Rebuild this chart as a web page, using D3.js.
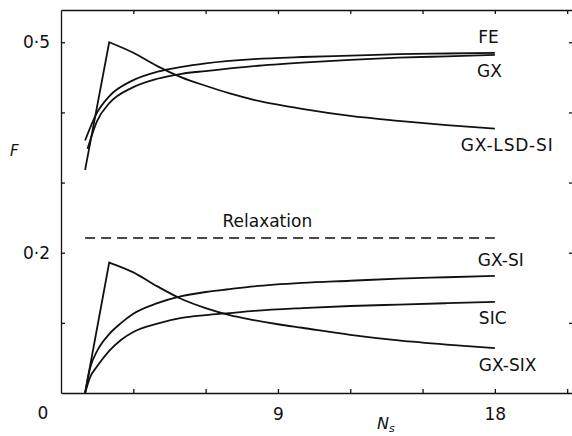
<!DOCTYPE html>
<html>
<head>
    <title>F versus Ns</title>
    <script src="https://d3js.org/d3.v7.min.js"></script>
    <style>
        body { margin: 0; background: #fff; }
        svg text { font-family: "DejaVu Sans", sans-serif; fill: #111; }
    </style>
</head>
<body>
    <div id="chart"></div>

    <script>
        // values: [Ns, F]
        const fe = [[1, 0.360], [1.5, 0.400], [2, 0.423], [3, 0.446], [4, 0.458], [5, 0.465], [6, 0.470],
            [8, 0.476], [10, 0.479], [12, 0.481], [14, 0.483], [16, 0.484], [18, 0.485]];
        const gx = [[1.1, 0.348], [1.5, 0.388], [2, 0.413], [3, 0.436], [4, 0.448], [5, 0.455], [6, 0.459],
            [8, 0.466], [10, 0.471], [12, 0.475], [14, 0.478], [16, 0.480], [18, 0.482]];
        const gxLsdSi = [[1, 0.318], [2, 0.500], [3, 0.485], [4, 0.466], [5, 0.450], [6, 0.438], [7, 0.427],
            [8, 0.418], [9, 0.411], [10, 0.405], [12, 0.395], [14, 0.388], [16, 0.382], [18, 0.377]];
        const gxSi = [[1, 0], [1.2, 0.035], [1.5, 0.060], [2, 0.084], [2.5, 0.100], [3, 0.113], [4, 0.128],
            [5, 0.138], [6, 0.144], [7, 0.148], [8, 0.152], [10, 0.157], [12, 0.160], [14, 0.163], [16, 0.165], [18, 0.167]];
        const sic = [[1, 0], [1.2, 0.022], [1.5, 0.038], [2, 0.060], [2.5, 0.076], [3, 0.087], [4, 0.099],
            [5, 0.107], [6, 0.111], [7, 0.114], [8, 0.117], [10, 0.121], [12, 0.124], [14, 0.126], [16, 0.128], [18, 0.130]];
        const gxSix = [[1, 0], [2, 0.186], [3, 0.172], [4, 0.152], [5, 0.134], [6, 0.121], [7, 0.111],
            [8, 0.104], [9, 0.098], [10, 0.093], [12, 0.083], [14, 0.075], [16, 0.069], [18, 0.064]];
        const relaxation = [[1, 0.221], [18, 0.221]];

        const xTicks = [3, 6, 9, 12, 15, 18, 21];
        const xLabels = { 9: '9', 18: '18' };
        const yTicks = [0.1, 0.2, 0.3, 0.4, 0.5];
        const yLabels = { 0.2: '0·2', 0.5: '0·5' };

        const width = 572, height = 436;
        const svg = d3.select('#chart').append('svg')
            .attr('width', width)
            .attr('height', height);

        const x = d3.scaleLinear().domain([0, 21.2]).range([61, 572]);
        const y = d3.scaleLinear().domain([0, 0.546]).range([393, 10]);

        // frame + inward ticks on all four sides
        svg.append('g')
            .attr('transform', `translate(0,${y(0)})`)
            .call(d3.axisBottom(x).tickValues(xTicks).tickSize(-4).tickSizeOuter(0)
                .tickPadding(15).tickFormat(d => xLabels[d] || ''))
            .call(g => g.selectAll('text').style('font-size', '17px'));
        svg.append('g')
            .attr('transform', `translate(0,${y(0.546)})`)
            .call(d3.axisTop(x).tickValues(xTicks).tickSize(-4).tickSizeOuter(0).tickFormat(''));
        svg.append('g')
            .attr('transform', `translate(${x(0)},0)`)
            .call(d3.axisLeft(y).tickValues(yTicks).tickSize(-4).tickSizeOuter(0)
                .tickPadding(11).tickFormat(d => yLabels[d] || ''))
            .call(g => g.selectAll('text').style('font-size', '17px'));
        svg.append('g')
            .attr('transform', `translate(573,0)`)
            .call(d3.axisRight(y).tickValues(yTicks).tickSize(-4).tickSizeOuter(0).tickFormat(''));
        svg.selectAll('.domain, .tick line').attr('stroke', '#111').attr('stroke-width', 1.3);

        svg.append('text')
            .attr('x', x(0) - 18).attr('y', y(0) + 26)
            .attr('text-anchor', 'middle')
            .style('font-size', '17px')
            .text('0');

        // axis titles
        svg.append('text')
            .attr('x', 10).attr('y', 156)
            .style('font-size', '15px').style('font-style', 'italic')
            .text('F');
        const nt = svg.append('text')
            .attr('x', 377).attr('y', 429)
            .style('font-size', '16px').style('font-style', 'italic');
        nt.append('tspan').text('N');
        nt.append('tspan').attr('dy', 3).style('font-size', '11px').text('s');

        const smooth = d3.line().x(d => x(d[0])).y(d => y(d[1])).curve(d3.curveMonotoneX);
        // peaked curves: straight rise to the peak, smooth fall after it
        const peaked = pts => `M${x(pts[0][0])},${y(pts[0][1])}L` + smooth(pts.slice(1)).slice(1);

        const series = [
            { data: fe, path: smooth },
            { data: gx, path: smooth },
            { data: gxLsdSi, path: peaked },
            { data: gxSi, path: smooth },
            { data: sic, path: smooth },
            { data: gxSix, path: peaked }
        ];
        svg.selectAll('path.curve')
            .data(series)
            .enter()
            .append('path')
            .attr('class', 'curve')
            .attr('d', d => d.path(d.data))
            .attr('fill', 'none')
            .attr('stroke', '#111')
            .attr('stroke-width', 1.8);

        svg.append('path')
            .attr('d', d3.line().x(d => x(d[0])).y(d => y(d[1]))(relaxation))
            .attr('fill', 'none')
            .attr('stroke', '#111')
            .attr('stroke-width', 1.6)
            .attr('stroke-dasharray', '10,6');

        // curve labels
        const labels = [
            { t: 'FE', nx: 18, f: 0.485, dy: -10, anchor: 'end', dx: 4 },
            { t: 'GX', nx: 18, f: 0.482, dy: 22, anchor: 'end', dx: 7 },
            { t: 'GX-LSD-SI', nx: 18, f: 0.377, dy: 22, anchor: 'start', dx: -34 },
            { t: 'Relaxation', nx: 6.7, f: 0.221, dy: -11, anchor: 'start', dx: 0 },
            { t: 'GX-SI', nx: 18, f: 0.167, dy: -10, anchor: 'start', dx: -17 },
            { t: 'SIC', nx: 18, f: 0.130, dy: 22, anchor: 'start', dx: -16 },
            { t: 'GX-SIX', nx: 18, f: 0.064, dy: 23, anchor: 'start', dx: -16 }
        ];
        svg.selectAll('text.lab')
            .data(labels)
            .enter()
            .append('text')
            .attr('class', 'lab')
            .attr('x', d => x(d.nx) + d.dx)
            .attr('y', d => y(d.f) + d.dy)
            .attr('text-anchor', d => d.anchor)
            .style('font-size', '17px')
            .style('letter-spacing', d => d.t === 'GX-LSD-SI' ? '0.8px' : '0px')
            .text(d => d.t);
    </script>
</body>
</html>
